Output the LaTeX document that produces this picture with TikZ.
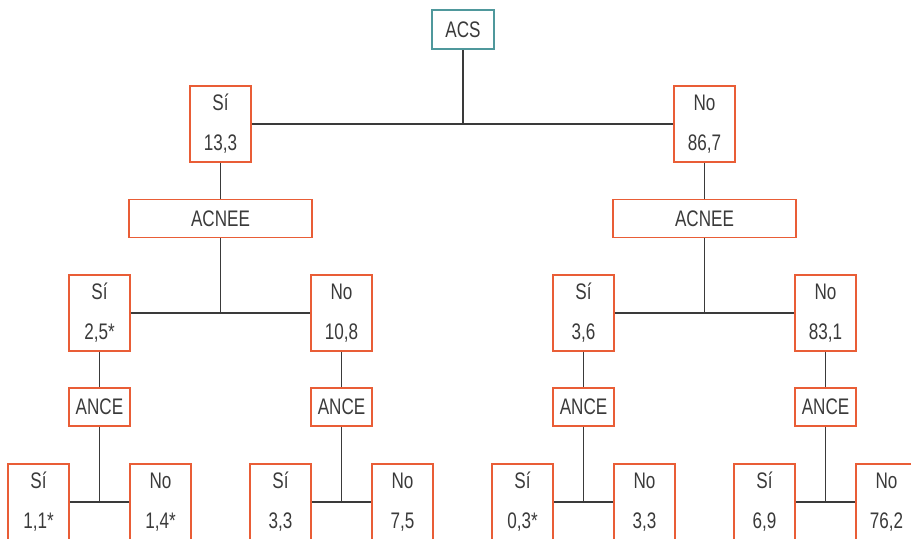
\documentclass[tikz,border=0pt]{standalone}
\usepackage{fontspec}
\setmainfont[FakeStretch=0.76]{Liberation Sans}
\definecolor{naranja}{HTML}{E95D36}
\definecolor{verdeazul}{HTML}{4F989C}
\definecolor{gristexto}{HTML}{3A3A3A}
\begin{document}
\begin{tikzpicture}[x=0.025cm, y=-0.025cm]
\tikzset{caja/.style={draw=naranja, line width=1.1pt, minimum width=1.525cm, inner sep=0pt, text=gristexto, font=\fontsize{16}{28.5}\selectfont, align=center}}
\tikzset{doble/.style={caja, minimum height=1.9cm}}
\tikzset{simple/.style={caja, minimum height=0.95cm}}
\tikzset{linea/.style={draw=gristexto, line width=0.75pt}}
\clip (0, 0) rectangle (911, 538);
\node[caja, draw=verdeazul, line width=1.6pt, minimum width=1.55cm, minimum height=0.975cm] (ACS) at (463, 29.5) {ACS};
\node[doble] (S1) at (220.5, 124) {Sí\\13,3};
\node[doble] (N1) at (704.5, 124) {No\\86,7};
\node[simple, minimum width=4.575cm] (E1) at (220.5, 218.5) {ACNEE};
\node[simple, minimum width=4.575cm] (E2) at (704.5, 218.5) {ACNEE};
\node[doble] (S11) at (99.5, 313) {Sí\\2,5*};
\node[doble] (N11) at (341.5, 313) {No\\10,8};
\node[doble] (S21) at (583.5, 313) {Sí\\3,6};
\node[doble] (N21) at (825.5, 313) {No\\83,1};
\node[simple] (C1) at (99.5, 407) {ANCE};
\node[simple] (C2) at (341.5, 407) {ANCE};
\node[simple] (C3) at (583.5, 407) {ANCE};
\node[simple] (C4) at (825.5, 407) {ANCE};
\node[doble] (S111) at (38.5, 502) {Sí\\1,1*};
\node[doble] (N111) at (160.5, 502) {No\\1,4*};
\node[doble] (S112) at (280.5, 502) {Sí\\3,3};
\node[doble] (N112) at (402.5, 502) {No\\7,5};
\node[doble] (S211) at (522.5, 502) {Sí\\0,3*};
\node[doble] (N211) at (644.5, 502) {No\\3,3};
\node[doble] (S212) at (764.5, 502) {Sí\\6,9};
\node[doble] (N212) at (886.5, 502) {No\\76,2};
% nivel 1
\draw[linea] (ACS.south) -- (ACS |- S1.east);
\draw[linea] (S1) -- (N1);
\draw[linea] (S1) -- (E1);
\draw[linea] (N1) -- (E2);
% nivel 2
\draw[linea] (E1.south) -- (E1 |- S11.east);
\draw[linea] (S11) -- (N11);
\draw[linea] (E2.south) -- (E2 |- S21.east);
\draw[linea] (S21) -- (N21);
\draw[linea] (S11) -- (C1);
\draw[linea] (N11) -- (C2);
\draw[linea] (S21) -- (C3);
\draw[linea] (N21) -- (C4);
% nivel 3
\draw[linea] (C1.south) -- (C1 |- S111.east);
\draw[linea] (S111) -- (N111);
\draw[linea] (C2.south) -- (C2 |- S112.east);
\draw[linea] (S112) -- (N112);
\draw[linea] (C3.south) -- (C3 |- S211.east);
\draw[linea] (S211) -- (N211);
\draw[linea] (C4.south) -- (C4 |- S212.east);
\draw[linea] (S212) -- (N212);
\end{tikzpicture}
\end{document}
